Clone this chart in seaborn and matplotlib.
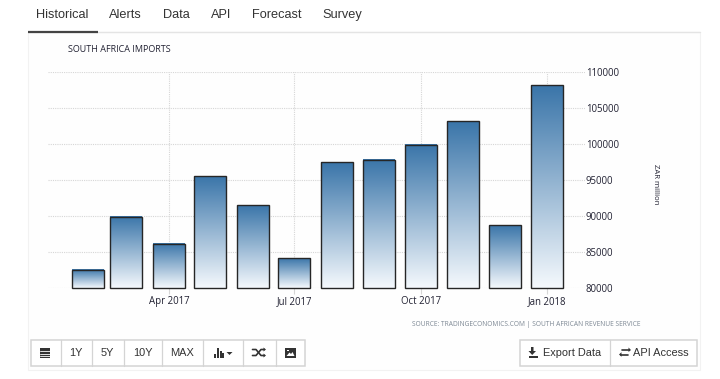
import numpy as np
import pandas as pd
import matplotlib
matplotlib.use("Agg")
import matplotlib.pyplot as plt
import matplotlib.dates as mdates
from matplotlib.colors import LinearSegmentedColormap
from matplotlib.patches import Rectangle, Polygon
import seaborn as sns

months = ["2017-02-01", "2017-03-01", "2017-04-01", "2017-05-01", "2017-06-01", "2017-07-01",
          "2017-08-01", "2017-09-01", "2017-10-01", "2017-11-01", "2017-12-01", "2018-01-01"]
imports = [82500, 89850, 86150, 95500, 91500, 84150, 97400, 97800, 99850, 103100, 88700, 108100]
y_ticks = [80000, 85000, 90000, 95000, 100000, 105000, 110000]
x_tick_dates = ["2017-04-01", "2017-07-01", "2017-10-01", "2018-01-01"]
x_tick_labels = ["Apr 2017", "Jul 2017", "Oct 2017", "Jan 2018"]
tabs = ["Historical", "Alerts", "Data", "API", "Forecast", "Survey"]
range_buttons = ["1Y", "5Y", "10Y", "MAX"]

W, H = 720, 379
sns.set_theme(style="white")
plt.rcParams['font.family'] = ['Open Sans', 'DejaVu Sans']
px = 0.72  # px to pt at dpi 100

fig = plt.figure(figsize=(W / 100, H / 100), dpi=100, facecolor="white")

# page overlay in pixel coordinates
ov = fig.add_axes([0, 0, 1, 1], zorder=0)
ov.set_xlim(0, W); ov.set_ylim(H, 0); ov.axis("off")

# panel and tab line
ov.add_patch(Rectangle((28, 32), 672, 338, fc="#fefefe", ec="#f2f2f2", lw=0.8))
ov.plot([28, 700], [31.5, 31.5], color="#e4e4e4", lw=1)
ov.plot([28, 98], [31.5, 31.5], color="#444444", lw=1.6, solid_capstyle="butt")

tab_x = [36, 109, 163, 211, 252, 322]
tab_y = [17.5, 18, 18, 18, 18, 18]
for t, x, y in zip(tabs, tab_x, tab_y):
    ov.text(x, y, t, fontsize=12.8 * px, family="Liberation Sans", color="#333333",
            va="baseline", ha="left")

ov.text(68, 49.5, "SOUTH AFRICA IMPORTS", fontsize=9.0 * px, color="#222233", va="center",
        ha="left", family="Open Sans")
ov.text(412, 325, "SOURCE: TRADINGECONOMICS.COM | SOUTH AFRICAN REVENUE SERVICE",
        fontsize=6.67 * px, color="#7d8894", va="center", ha="left", family="Open Sans")

# button groups
def group(edges, y0=339.5, y1=366):
    ov.add_patch(Rectangle((edges[0], y0), edges[-1] - edges[0], y1 - y0, fc="white",
                           ec="#d4d4d4", lw=1.1))
    for e in edges[1:-1]:
        ov.plot([e, e], [y0, y1], color="#d4d4d4", lw=0.9)

left_edges = [31, 60.5, 92, 123.5, 162, 203, 242.5, 275.5, 305]
group(left_edges)
group([519.5, 609.5, 697])

for t, a, b in zip(range_buttons, left_edges[1:5], left_edges[2:6]):
    ov.text((a + b) / 2, 352.5, t, fontsize=11 * px, family="Liberation Sans", color="#333333",
            ha="center", va="center")

ic = "#333333"
# calendar
ov.add_patch(Rectangle((40, 347.5), 10, 10.5, fc=ic, ec="none"))
for yy in (350.5, 353.5, 355.8):
    ov.plot([40, 50], [yy, yy], color="white", lw=0.6)
# bar chart + caret
for x, y0 in zip((213.5, 216.5, 219.5, 222), (354, 348, 351, 353)):
    ov.add_patch(Rectangle((x, y0), 2.2, 357.5 - y0, fc=ic, ec="none"))
ov.add_patch(Polygon([[226.5, 352], [232.5, 352], [229.5, 355]], fc=ic, ec="none"))
# shuffle
ov.plot([252.5, 256, 261, 264], [349.5, 349.5, 355.5, 355.5], color=ic, lw=1.2)
ov.plot([252.5, 256, 261, 264], [355.5, 355.5, 349.5, 349.5], color=ic, lw=1.2)
ov.add_patch(Polygon([[263.5, 347.5], [263.5, 351.5], [266, 349.5]], fc=ic, ec="none"))
ov.add_patch(Polygon([[263.5, 353.5], [263.5, 357.5], [266, 355.5]], fc=ic, ec="none"))
# picture
ov.add_patch(Rectangle((285, 348), 10.5, 9.5, fc=ic, ec="none"))
ov.add_patch(Polygon([[286.5, 356], [289.5, 352.5], [291, 354], [292.5, 352], [294.5, 356]],
                     fc="white", ec="none"))
ov.add_patch(Rectangle((287, 349.5), 1.6, 1.6, fc="white", ec="none"))
# download
ov.add_patch(Polygon([[531, 347], [533.5, 347], [533.5, 351], [536, 351], [532.2, 355],
                     [528.5, 351], [531, 351]], fc=ic, ec="none"))
ov.add_patch(Rectangle((529, 355.5), 9, 2.2, fc=ic, ec="none"))
ov.text(543, 352.5, "Export Data", fontsize=11 * px, family="Liberation Sans", color="#333333",
        va="center", ha="left")
# exchange
ov.plot([622, 629], [350, 350], color=ic, lw=1.2)
ov.add_patch(Polygon([[628.5, 347.5], [628.5, 352], [631, 350]], fc=ic, ec="none"))
ov.plot([621, 628], [354.5, 354.5], color=ic, lw=1.2)
ov.add_patch(Polygon([[621.5, 352.2], [621.5, 356.8], [619, 354.5]], fc=ic, ec="none"))
ov.text(633, 352.5, "API Access", fontsize=11 * px, family="Liberation Sans", color="#333333",
        va="center", ha="left")

# chart axes: pixel extents
L, R, T, B = 48, 585, 71.5, 288
ax = fig.add_axes([L / W, 1 - B / H, (R - L) / W, (B - T) / H], zorder=1)
ax.patch.set_alpha(0)

df = pd.DataFrame({"date": mdates.date2num(pd.to_datetime(months)), "value": imports})
sns.barplot(data=df, x="date", y="value", native_scale=True, width=0.83, ax=ax,
            facecolor="none", edgecolor="#262626", linewidth=1.0, errorbar=None, zorder=3)

x_ticks = mdates.date2num(pd.to_datetime(x_tick_dates))
day_px = (547.3 - 169) / (x_ticks[3] - x_ticks[0])
x0 = x_ticks[0] - (169 - L) / day_px
x1 = x_ticks[0] + (R - 169) / day_px

base = y_ticks[0]
cmap = LinearSegmentedColormap.from_list("g", ["#f5f9fd", "#3a75a9"])
grad = np.linspace(1, 0, 256).reshape(-1, 1)
for p, v in zip(list(ax.patches), imports):
    # bars stand on the axis floor, each with its own top-to-bottom gradient
    p.set_y(base)
    p.set_height(v - base)
    p.set_clip_on(False)
    ax.imshow(grad, cmap=cmap, aspect="auto", zorder=2, vmin=0, vmax=1,
              extent=[p.get_x(), p.get_x() + p.get_width(), base, v])

ax.set_xlim(x0, x1)
ax.set_ylim(base, y_ticks[-1])
ax.set_xticks(x_ticks, x_tick_labels)
ax.set_yticks(y_ticks, [str(v) for v in y_ticks])
ax.yaxis.tick_right()
ax.set_xlabel(""); ax.set_ylabel("")
ax.grid(True, color="#d6d6d6", linestyle=(0, (1, 1)), linewidth=0.8, zorder=0)
ax.set_axisbelow(True)
for s in ax.spines.values():
    s.set_visible(False)
ax.tick_params(axis="x", length=4, width=0.8, color="#d6d6d6", pad=1.5, labelsize=9.6 * px,
               labelcolor="#222233", bottom=True)
ax.tick_params(axis="y", length=0, pad=0.5, labelsize=9.7 * px, labelcolor="#222233", right=True)
ax.text(1.132, 0.48, "ZAR million", transform=ax.transAxes, rotation=270, fontsize=7.8 * px,
        color="#222233", ha="center", va="center")

fig.savefig("out.png", dpi=100, facecolor="white")
